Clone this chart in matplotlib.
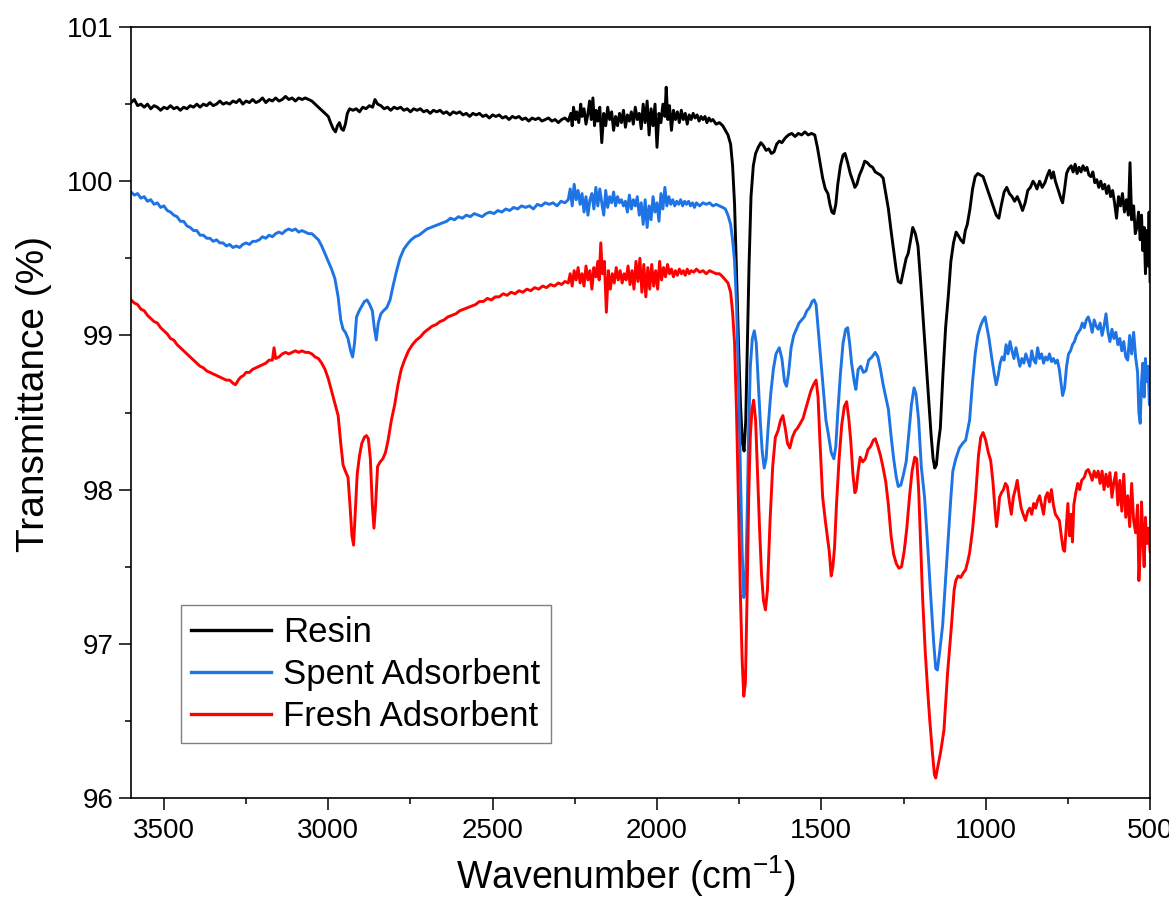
## FTIR spectra: resin, spent and fresh adsorbent
import numpy as np
import matplotlib
matplotlib.use("Agg")
import matplotlib.pyplot as plt
from matplotlib.ticker import MultipleLocator

plt.rcParams['font.family'] = ['Liberation Sans', 'DejaVu Sans']

labels = ["Resin", "Spent Adsorbent", "Fresh Adsorbent"]
colors = ["#000000", "#1E74E4", "#FF0000"]

# (wavenumber cm-1, transmittance %)
resin = [
    (3600, 100.51), (3590, 100.53), (3580, 100.49), (3570, 100.50), (3560, 100.48), (3550, 100.50),
    (3540, 100.47), (3530, 100.49), (3520, 100.48), (3510, 100.46), (3500, 100.48), (3490, 100.47),
    (3480, 100.49), (3470, 100.47), (3460, 100.48), (3450, 100.46), (3440, 100.48), (3430, 100.47),
    (3420, 100.49), (3410, 100.48), (3400, 100.50), (3390, 100.48), (3380, 100.50), (3370, 100.49),
    (3360, 100.51), (3350, 100.49), (3340, 100.50), (3330, 100.52), (3320, 100.50), (3310, 100.51),
    (3300, 100.50), (3290, 100.52), (3280, 100.51), (3270, 100.53), (3260, 100.50), (3250, 100.52),
    (3240, 100.51), (3230, 100.53), (3220, 100.51), (3210, 100.52), (3200, 100.54), (3190, 100.51),
    (3180, 100.53), (3170, 100.52), (3160, 100.54), (3150, 100.52), (3140, 100.53), (3130, 100.55),
    (3120, 100.53), (3110, 100.54), (3100, 100.52), (3090, 100.54), (3080, 100.53), (3070, 100.54),
    (3060, 100.53), (3050, 100.52), (3040, 100.50), (3030, 100.48), (3020, 100.46), (3010, 100.44),
    (3000, 100.42), (2993, 100.38), (2985, 100.34), (2978, 100.32), (2972, 100.36), (2966, 100.38),
    (2960, 100.34), (2954, 100.33), (2948, 100.37), (2942, 100.44), (2935, 100.47), (2925, 100.46),
    (2915, 100.47), (2905, 100.45), (2895, 100.48), (2885, 100.47), (2875, 100.49), (2865, 100.48),
    (2858, 100.53), (2850, 100.50), (2840, 100.49), (2830, 100.47), (2820, 100.48), (2810, 100.46),
    (2800, 100.48), (2790, 100.47), (2780, 100.48), (2770, 100.46), (2760, 100.47), (2750, 100.45),
    (2740, 100.47), (2730, 100.46), (2720, 100.47), (2710, 100.45), (2700, 100.46), (2690, 100.44),
    (2680, 100.46), (2670, 100.45), (2660, 100.46), (2650, 100.44), (2640, 100.45), (2630, 100.43),
    (2620, 100.45), (2610, 100.44), (2600, 100.45), (2590, 100.43), (2580, 100.44), (2570, 100.42),
    (2560, 100.44), (2550, 100.43), (2540, 100.44), (2530, 100.42), (2520, 100.43), (2510, 100.41),
    (2500, 100.43), (2490, 100.42), (2480, 100.43), (2470, 100.41), (2460, 100.42), (2450, 100.40),
    (2440, 100.42), (2430, 100.41), (2420, 100.42), (2410, 100.40), (2400, 100.41), (2390, 100.39),
    (2380, 100.41), (2370, 100.40), (2360, 100.41), (2350, 100.39), (2340, 100.40), (2330, 100.41),
    (2320, 100.39), (2310, 100.40), (2300, 100.38), (2290, 100.40), (2280, 100.41), (2270, 100.39),
    (2262, 100.44), (2258, 100.36), (2254, 100.48), (2248, 100.40), (2244, 100.45), (2238, 100.38),
    (2232, 100.50), (2228, 100.42), (2222, 100.47), (2216, 100.37), (2210, 100.44), (2205, 100.52),
    (2200, 100.40), (2195, 100.54), (2190, 100.36), (2185, 100.46), (2180, 100.39), (2174, 100.48),
    (2168, 100.25), (2162, 100.44), (2156, 100.36), (2150, 100.48), (2144, 100.40), (2138, 100.45),
    (2132, 100.33), (2126, 100.42), (2120, 100.36), (2114, 100.44), (2108, 100.38), (2102, 100.46),
    (2096, 100.35), (2090, 100.43), (2084, 100.39), (2078, 100.45), (2072, 100.37), (2066, 100.48),
    (2060, 100.40), (2054, 100.44), (2048, 100.34), (2042, 100.50), (2036, 100.38), (2030, 100.52),
    (2024, 100.30), (2018, 100.47), (2012, 100.36), (2006, 100.50), (2000, 100.22), (1994, 100.44),
    (1988, 100.38), (1982, 100.50), (1976, 100.42), (1972, 100.61), (1967, 100.40), (1962, 100.49),
    (1956, 100.33), (1950, 100.46), (1944, 100.40), (1938, 100.45), (1932, 100.38), (1926, 100.46),
    (1920, 100.40), (1914, 100.44), (1908, 100.37), (1902, 100.43), (1896, 100.40), (1890, 100.44),
    (1884, 100.41), (1878, 100.43), (1872, 100.39), (1866, 100.42), (1860, 100.40), (1854, 100.42),
    (1848, 100.38), (1842, 100.41), (1836, 100.39), (1830, 100.40), (1820, 100.37), (1810, 100.38),
    (1800, 100.36), (1792, 100.33), (1784, 100.30), (1776, 100.24), (1770, 100.10), (1764, 99.85),
    (1758, 99.40), (1752, 98.95), (1746, 98.55), (1740, 98.30), (1735, 98.25), (1730, 98.45),
    (1725, 98.95), (1720, 99.45), (1714, 99.90), (1707, 100.10), (1700, 100.18), (1692, 100.22),
    (1684, 100.25), (1676, 100.23), (1668, 100.20), (1660, 100.21), (1652, 100.18), (1644, 100.19),
    (1636, 100.24), (1628, 100.26), (1620, 100.25), (1610, 100.28), (1600, 100.30), (1590, 100.31),
    (1580, 100.29), (1570, 100.31), (1560, 100.30), (1550, 100.32), (1540, 100.30), (1530, 100.31),
    (1520, 100.30), (1512, 100.22), (1504, 100.12), (1496, 100.02), (1488, 99.95), (1480, 99.92),
    (1474, 99.85), (1468, 99.80), (1462, 99.79), (1456, 99.85), (1450, 99.98), (1442, 100.10),
    (1434, 100.17), (1428, 100.18), (1420, 100.12), (1412, 100.05), (1404, 100.00), (1398, 99.96),
    (1392, 99.98), (1384, 100.04), (1376, 100.08), (1368, 100.13), (1360, 100.12), (1352, 100.10),
    (1344, 100.09), (1336, 100.06), (1328, 100.05), (1320, 100.04), (1312, 100.02), (1304, 99.92),
    (1296, 99.82), (1288, 99.68), (1280, 99.55), (1272, 99.42), (1266, 99.35), (1258, 99.34),
    (1250, 99.42), (1242, 99.50), (1236, 99.53), (1230, 99.60), (1222, 99.70), (1214, 99.66),
    (1206, 99.58), (1198, 99.35), (1190, 99.10), (1182, 98.85), (1174, 98.60), (1166, 98.35),
    (1160, 98.20), (1155, 98.14), (1150, 98.16), (1144, 98.30), (1138, 98.40), (1130, 98.75),
    (1122, 99.05), (1114, 99.25), (1106, 99.48), (1098, 99.60), (1090, 99.67), (1084, 99.65),
    (1076, 99.62), (1068, 99.60), (1062, 99.68), (1056, 99.72), (1048, 99.82), (1040, 99.95),
    (1032, 100.03), (1024, 100.05), (1016, 100.04), (1008, 100.03), (1000, 99.98), (992, 99.93),
    (984, 99.88), (976, 99.83), (968, 99.78), (960, 99.76), (952, 99.85), (944, 99.93),
    (936, 99.96), (928, 99.92), (920, 99.90), (912, 99.87), (904, 99.90), (896, 99.86),
    (888, 99.81), (880, 99.86), (872, 99.94), (864, 99.96), (856, 100.00), (850, 99.98),
    (844, 99.95), (836, 100.00), (828, 99.96), (820, 99.99), (812, 100.04), (806, 100.07),
    (800, 100.02), (794, 100.06), (788, 100.00), (782, 99.96), (776, 99.92), (770, 99.88),
    (766, 99.86), (760, 99.95), (754, 100.05), (748, 100.08), (740, 100.10), (734, 100.06),
    (728, 100.11), (722, 100.05), (716, 100.09), (710, 100.06), (704, 100.10), (698, 100.07),
    (692, 100.09), (686, 100.04), (680, 100.03), (674, 100.06), (668, 99.99), (662, 100.01),
    (656, 99.96), (650, 100.00), (644, 99.95), (638, 99.98), (632, 99.92), (626, 99.97),
    (620, 99.90), (614, 99.94), (608, 99.86), (602, 99.76), (596, 99.90), (590, 99.84),
    (584, 99.92), (578, 99.80), (572, 99.88), (566, 99.78), (561, 100.12), (556, 99.75),
    (550, 99.84), (545, 99.66), (540, 99.70), (535, 99.80), (530, 99.62), (526, 99.78),
    (522, 99.55), (518, 99.70), (514, 99.40), (510, 99.68), (506, 99.45), (503, 99.80),
    (500, 99.35),
]

spent = [
    (3600, 99.93), (3590, 99.91), (3580, 99.92), (3570, 99.89), (3560, 99.90), (3550, 99.87),
    (3540, 99.88), (3530, 99.85), (3520, 99.86), (3510, 99.83), (3500, 99.84), (3490, 99.81),
    (3480, 99.80), (3470, 99.78), (3460, 99.77), (3450, 99.74), (3440, 99.74), (3430, 99.71),
    (3420, 99.70), (3410, 99.68), (3400, 99.68), (3390, 99.65), (3380, 99.65), (3370, 99.63),
    (3360, 99.63), (3350, 99.61), (3340, 99.62), (3330, 99.60), (3320, 99.60), (3310, 99.58),
    (3300, 99.59), (3290, 99.57), (3280, 99.58), (3270, 99.57), (3260, 99.59), (3250, 99.60),
    (3240, 99.59), (3230, 99.61), (3220, 99.61), (3210, 99.62), (3200, 99.64), (3190, 99.63),
    (3180, 99.65), (3170, 99.64), (3160, 99.66), (3150, 99.67), (3140, 99.66), (3130, 99.68),
    (3120, 99.69), (3110, 99.68), (3100, 99.69), (3090, 99.67), (3080, 99.68), (3070, 99.67),
    (3060, 99.66), (3050, 99.66), (3040, 99.64), (3030, 99.62), (3020, 99.58), (3010, 99.53),
    (3000, 99.48), (2990, 99.43), (2980, 99.37), (2970, 99.25), (2962, 99.10), (2955, 99.04),
    (2948, 99.02), (2940, 98.98), (2932, 98.90), (2926, 98.86), (2920, 98.95), (2914, 99.12),
    (2906, 99.16), (2898, 99.19), (2890, 99.22), (2882, 99.23), (2874, 99.20), (2866, 99.16),
    (2860, 99.05), (2854, 98.97), (2848, 99.08), (2840, 99.14), (2832, 99.16), (2822, 99.18),
    (2812, 99.23), (2802, 99.33), (2792, 99.42), (2782, 99.50), (2770, 99.56), (2760, 99.59),
    (2748, 99.62), (2736, 99.64), (2724, 99.65), (2712, 99.67), (2700, 99.69), (2688, 99.70),
    (2676, 99.71), (2664, 99.72), (2652, 99.73), (2640, 99.74), (2628, 99.76), (2616, 99.75),
    (2604, 99.77), (2592, 99.76), (2580, 99.78), (2568, 99.77), (2556, 99.79), (2544, 99.78),
    (2532, 99.77), (2520, 99.79), (2508, 99.80), (2496, 99.79), (2484, 99.81), (2472, 99.80),
    (2460, 99.82), (2448, 99.81), (2436, 99.83), (2424, 99.82), (2412, 99.84), (2400, 99.83),
    (2388, 99.84), (2376, 99.82), (2364, 99.85), (2352, 99.84), (2340, 99.86), (2328, 99.85),
    (2316, 99.86), (2304, 99.84), (2292, 99.87), (2280, 99.86), (2270, 99.88), (2264, 99.95),
    (2258, 99.84), (2252, 99.98), (2246, 99.88), (2240, 99.94), (2234, 99.85), (2228, 99.92),
    (2222, 99.80), (2216, 99.90), (2210, 99.78), (2204, 99.88), (2198, 99.92), (2192, 99.82),
    (2186, 99.96), (2180, 99.84), (2174, 99.95), (2168, 99.86), (2162, 99.78), (2156, 99.94),
    (2150, 99.83), (2144, 99.90), (2138, 99.86), (2132, 99.93), (2126, 99.84), (2120, 99.90),
    (2114, 99.86), (2108, 99.88), (2102, 99.84), (2096, 99.87), (2090, 99.80), (2084, 99.91),
    (2078, 99.82), (2072, 99.88), (2066, 99.84), (2060, 99.90), (2054, 99.78), (2048, 99.86),
    (2042, 99.72), (2036, 99.88), (2030, 99.70), (2024, 99.84), (2018, 99.75), (2012, 99.90),
    (2006, 99.80), (2000, 99.86), (1994, 99.74), (1988, 99.92), (1982, 99.82), (1976, 99.96),
    (1970, 99.84), (1964, 99.90), (1958, 99.85), (1952, 99.88), (1946, 99.84), (1940, 99.87),
    (1934, 99.85), (1928, 99.88), (1922, 99.84), (1916, 99.87), (1910, 99.85), (1904, 99.87),
    (1898, 99.84), (1892, 99.86), (1886, 99.83), (1880, 99.86), (1870, 99.84), (1860, 99.86),
    (1850, 99.85), (1840, 99.86), (1830, 99.84), (1820, 99.85), (1810, 99.84), (1800, 99.83),
    (1792, 99.82), (1784, 99.78), (1776, 99.72), (1770, 99.62), (1764, 99.48), (1758, 99.20),
    (1752, 98.70), (1746, 98.10), (1741, 97.60), (1736, 97.30), (1731, 97.35), (1726, 97.80),
    (1721, 98.40), (1716, 98.80), (1710, 98.98), (1704, 99.03), (1698, 98.95), (1692, 98.70),
    (1686, 98.45), (1680, 98.25), (1674, 98.14), (1668, 98.20), (1662, 98.40), (1654, 98.62),
    (1646, 98.78), (1638, 98.88), (1628, 98.92), (1620, 98.85), (1612, 98.70), (1606, 98.67),
    (1600, 98.75), (1592, 98.92), (1584, 99.00), (1576, 99.04), (1568, 99.08), (1560, 99.10),
    (1552, 99.12), (1544, 99.16), (1536, 99.18), (1528, 99.22), (1522, 99.23), (1516, 99.20),
    (1510, 99.05), (1502, 98.85), (1494, 98.65), (1486, 98.45), (1478, 98.35), (1470, 98.24),
    (1462, 98.20), (1456, 98.28), (1450, 98.50), (1442, 98.75), (1434, 98.95), (1426, 99.04),
    (1420, 99.05), (1414, 98.95), (1408, 98.82), (1400, 98.70), (1395, 98.65), (1388, 98.78),
    (1380, 98.80), (1372, 98.76), (1364, 98.77), (1356, 98.84), (1346, 98.86), (1336, 98.89),
    (1328, 98.86), (1320, 98.78), (1312, 98.68), (1304, 98.60), (1296, 98.52), (1288, 98.35),
    (1280, 98.20), (1272, 98.08), (1266, 98.02), (1258, 98.03), (1250, 98.10), (1242, 98.18),
    (1234, 98.36), (1226, 98.55), (1218, 98.66), (1212, 98.62), (1204, 98.45), (1196, 98.15),
    (1186, 97.95), (1176, 97.62), (1167, 97.30), (1158, 97.00), (1152, 96.84), (1147, 96.83),
    (1140, 96.95), (1131, 97.12), (1122, 97.42), (1116, 97.63), (1106, 97.95), (1100, 98.12),
    (1091, 98.20), (1080, 98.27), (1070, 98.30), (1061, 98.32), (1049, 98.45), (1040, 98.70),
    (1032, 98.88), (1024, 99.00), (1016, 99.06), (1008, 99.10), (1002, 99.12), (996, 99.05),
    (990, 98.98), (982, 98.86), (974, 98.75), (968, 98.68), (962, 98.74), (956, 98.82),
    (950, 98.86), (944, 98.84), (938, 98.94), (932, 98.88), (926, 98.96), (920, 98.90),
    (914, 98.85), (908, 98.92), (902, 98.86), (896, 98.80), (890, 98.85), (884, 98.82),
    (878, 98.88), (872, 98.84), (866, 98.80), (860, 98.90), (854, 98.84), (848, 98.82),
    (842, 98.92), (836, 98.85), (830, 98.88), (824, 98.82), (818, 98.86), (812, 98.84),
    (806, 98.88), (800, 98.83), (794, 98.85), (788, 98.82), (782, 98.84), (776, 98.78),
    (770, 98.68), (766, 98.61), (760, 98.66), (754, 98.80), (748, 98.88), (742, 98.90),
    (736, 98.94), (730, 98.96), (724, 99.00), (718, 99.02), (712, 99.04), (706, 99.08),
    (700, 99.05), (694, 99.10), (688, 99.12), (682, 99.08), (676, 99.02), (670, 99.10),
    (664, 99.06), (658, 99.04), (652, 99.08), (646, 99.00), (640, 99.06), (634, 99.14),
    (628, 99.02), (622, 98.96), (616, 99.04), (610, 98.98), (604, 99.02), (598, 98.94),
    (592, 98.98), (586, 98.90), (580, 98.96), (574, 98.86), (568, 98.84), (562, 99.00),
    (556, 98.88), (550, 99.02), (544, 98.86), (538, 98.76), (534, 98.50), (530, 98.43),
    (526, 98.70), (522, 98.82), (518, 98.60), (514, 98.85), (510, 98.70), (506, 98.80),
    (502, 98.55), (500, 98.62),
]

fresh = [
    (3600, 99.23), (3590, 99.21), (3580, 99.20), (3570, 99.17), (3560, 99.16), (3550, 99.13),
    (3540, 99.11), (3530, 99.09), (3520, 99.08), (3510, 99.05), (3500, 99.03), (3490, 99.01),
    (3480, 98.98), (3470, 98.97), (3460, 98.94), (3450, 98.92), (3440, 98.90), (3430, 98.88),
    (3420, 98.86), (3410, 98.84), (3400, 98.82), (3390, 98.80), (3380, 98.79), (3370, 98.77),
    (3360, 98.76), (3350, 98.75), (3340, 98.74), (3330, 98.73), (3320, 98.72), (3310, 98.71),
    (3300, 98.71), (3290, 98.69), (3282, 98.68), (3274, 98.71), (3266, 98.73), (3258, 98.74),
    (3250, 98.76), (3240, 98.76), (3230, 98.78), (3220, 98.79), (3210, 98.80), (3200, 98.81),
    (3190, 98.82), (3180, 98.84), (3170, 98.84), (3165, 98.92), (3160, 98.85), (3150, 98.86),
    (3140, 98.88), (3130, 98.89), (3120, 98.88), (3110, 98.89), (3100, 98.90), (3090, 98.89),
    (3080, 98.90), (3070, 98.89), (3060, 98.89), (3050, 98.88), (3040, 98.86), (3030, 98.85),
    (3020, 98.82), (3010, 98.78), (3000, 98.72), (2990, 98.64), (2980, 98.56), (2970, 98.48),
    (2962, 98.30), (2955, 98.16), (2948, 98.12), (2940, 98.08), (2934, 97.90), (2928, 97.70),
    (2923, 97.64), (2918, 97.85), (2912, 98.10), (2905, 98.22), (2898, 98.30), (2890, 98.34),
    (2884, 98.35), (2878, 98.33), (2872, 98.20), (2866, 97.90), (2861, 97.75), (2856, 97.90),
    (2850, 98.15), (2842, 98.18), (2834, 98.20), (2826, 98.24), (2818, 98.32), (2808, 98.45),
    (2798, 98.55), (2788, 98.68), (2778, 98.78), (2768, 98.84), (2756, 98.90), (2744, 98.94),
    (2732, 98.97), (2720, 98.99), (2708, 99.02), (2696, 99.04), (2684, 99.06), (2672, 99.07),
    (2660, 99.09), (2648, 99.10), (2636, 99.12), (2624, 99.13), (2612, 99.14), (2600, 99.16),
    (2588, 99.17), (2576, 99.18), (2564, 99.19), (2552, 99.20), (2540, 99.22), (2528, 99.22),
    (2516, 99.24), (2504, 99.23), (2492, 99.25), (2480, 99.25), (2468, 99.27), (2456, 99.26),
    (2444, 99.28), (2432, 99.27), (2420, 99.29), (2408, 99.28), (2396, 99.30), (2384, 99.29),
    (2372, 99.31), (2360, 99.30), (2348, 99.32), (2336, 99.31), (2324, 99.33), (2312, 99.32),
    (2300, 99.34), (2290, 99.33), (2280, 99.35), (2270, 99.34), (2264, 99.40), (2258, 99.32),
    (2252, 99.42), (2246, 99.36), (2240, 99.44), (2234, 99.34), (2228, 99.40), (2222, 99.32),
    (2216, 99.45), (2210, 99.36), (2204, 99.42), (2198, 99.30), (2192, 99.44), (2186, 99.38),
    (2180, 99.48), (2176, 99.36), (2171, 99.60), (2166, 99.40), (2160, 99.48), (2154, 99.15),
    (2148, 99.42), (2142, 99.30), (2136, 99.40), (2130, 99.34), (2124, 99.44), (2118, 99.36),
    (2112, 99.42), (2106, 99.34), (2100, 99.40), (2094, 99.36), (2088, 99.45), (2082, 99.33),
    (2076, 99.42), (2070, 99.30), (2064, 99.48), (2058, 99.35), (2052, 99.50), (2046, 99.28),
    (2040, 99.46), (2034, 99.25), (2028, 99.44), (2022, 99.30), (2016, 99.46), (2010, 99.32),
    (2004, 99.42), (1998, 99.30), (1992, 99.48), (1986, 99.36), (1980, 99.44), (1974, 99.38),
    (1968, 99.46), (1962, 99.40), (1956, 99.43), (1950, 99.38), (1944, 99.42), (1938, 99.39),
    (1932, 99.43), (1926, 99.40), (1920, 99.42), (1914, 99.39), (1908, 99.43), (1902, 99.40),
    (1896, 99.42), (1888, 99.41), (1880, 99.43), (1870, 99.41), (1860, 99.42), (1850, 99.40),
    (1840, 99.42), (1830, 99.41), (1820, 99.40), (1810, 99.40), (1800, 99.38), (1792, 99.36),
    (1784, 99.34), (1776, 99.28), (1770, 99.15), (1764, 98.95), (1758, 98.50), (1752, 97.90),
    (1746, 97.30), (1741, 96.90), (1736, 96.66), (1731, 96.75), (1726, 97.30), (1721, 97.95),
    (1716, 98.35), (1711, 98.52), (1706, 98.58), (1700, 98.45), (1694, 98.10), (1688, 97.75),
    (1682, 97.45), (1676, 97.28), (1670, 97.22), (1664, 97.35), (1656, 97.80), (1648, 98.15),
    (1640, 98.34), (1632, 98.38), (1624, 98.45), (1617, 98.48), (1610, 98.40), (1603, 98.30),
    (1596, 98.27), (1588, 98.34), (1580, 98.38), (1572, 98.40), (1564, 98.43), (1556, 98.46),
    (1548, 98.52), (1540, 98.58), (1532, 98.64), (1524, 98.68), (1516, 98.71), (1510, 98.60),
    (1504, 98.30), (1496, 97.95), (1488, 97.80), (1482, 97.70), (1476, 97.60), (1470, 97.44),
    (1465, 97.50), (1460, 97.62), (1454, 97.90), (1446, 98.20), (1438, 98.42), (1430, 98.54),
    (1423, 98.57), (1416, 98.45), (1410, 98.30), (1404, 98.10), (1398, 97.98), (1394, 98.00),
    (1388, 98.12), (1382, 98.21), (1374, 98.18), (1366, 98.20), (1358, 98.26), (1350, 98.28),
    (1342, 98.32), (1336, 98.33), (1328, 98.28), (1320, 98.22), (1312, 98.14), (1304, 98.05),
    (1296, 97.90), (1288, 97.70), (1280, 97.58), (1272, 97.52), (1264, 97.49), (1256, 97.50),
    (1248, 97.60), (1240, 97.75), (1232, 97.95), (1224, 98.12), (1216, 98.21), (1210, 98.20),
    (1204, 98.00), (1198, 97.65), (1192, 97.30), (1184, 96.95), (1176, 96.68), (1170, 96.50),
    (1162, 96.29), (1156, 96.15), (1152, 96.13), (1146, 96.20), (1137, 96.30), (1127, 96.44),
    (1116, 96.81), (1106, 97.07), (1096, 97.35), (1091, 97.41), (1084, 97.44), (1076, 97.43),
    (1068, 97.46), (1061, 97.48), (1054, 97.54), (1049, 97.59), (1040, 97.74), (1031, 97.95),
    (1022, 98.22), (1015, 98.34), (1008, 98.37), (1000, 98.32), (992, 98.24), (985, 98.19),
    (978, 98.05), (972, 97.88), (967, 97.76), (962, 97.85), (958, 97.95), (952, 97.98),
    (946, 98.00), (940, 98.04), (934, 98.02), (928, 97.92), (922, 97.84), (916, 97.95),
    (910, 98.00), (904, 98.06), (898, 97.96), (892, 97.88), (886, 97.84), (879, 97.80),
    (872, 97.86), (866, 97.88), (860, 97.84), (854, 97.91), (848, 97.88), (842, 97.93),
    (836, 97.96), (830, 97.90), (824, 97.84), (818, 97.95), (812, 97.98), (806, 97.92),
    (800, 98.00), (794, 97.90), (788, 97.84), (782, 97.82), (776, 97.80), (770, 97.70),
    (764, 97.61), (760, 97.60), (755, 97.75), (750, 97.91), (745, 97.70), (740, 97.84),
    (736, 97.66), (732, 97.90), (726, 97.98), (720, 98.04), (714, 98.00), (708, 98.06),
    (700, 98.08), (694, 98.12), (688, 98.13), (682, 98.10), (676, 98.06), (670, 98.12),
    (664, 98.08), (658, 98.12), (652, 98.04), (646, 98.12), (640, 98.00), (634, 98.10),
    (628, 98.02), (622, 98.11), (616, 97.95), (610, 98.05), (604, 98.11), (598, 97.90),
    (592, 98.06), (586, 97.86), (580, 98.10), (574, 97.82), (568, 97.96), (562, 97.76),
    (556, 98.04), (550, 97.80), (544, 97.72), (538, 97.90), (534, 97.41), (530, 97.60),
    (526, 97.92), (522, 97.70), (518, 97.50), (514, 97.82), (510, 97.65), (505, 97.75),
    (500, 97.60),
]

fig = plt.figure(figsize=(11.69, 9.07), dpi=100)
ax = fig.add_axes([0.1121, 0.1202, 0.8717, 0.85])

for pts, lab, col in zip([resin, spent, fresh], labels, colors):
    d = np.array(pts)
    ax.plot(d[:, 0], d[:, 1], color=col, lw=2.1, label=lab)

ax.set_xlim(3600, 500)
ax.set_ylim(96, 101)
ax.xaxis.set_major_locator(MultipleLocator(500))
ax.xaxis.set_minor_locator(MultipleLocator(250))
ax.yaxis.set_major_locator(MultipleLocator(1))
ax.yaxis.set_minor_locator(MultipleLocator(0.5))
ax.tick_params(which='both', direction='out', top=False, right=False, width=1.1, labelsize=20)
ax.tick_params(which='major', length=8.5)
ax.tick_params(which='minor', length=4.5)
ax.tick_params(axis='x', which='major', pad=6)
ax.tick_params(axis='y', which='major', pad=4)
for s in ax.spines.values():
    s.set_linewidth(1.2)

ax.set_xlabel("Wavenumber (cm$^{\\mathregular{-1}}$)", fontsize=27)
ax.set_ylabel("Transmittance (%)", fontsize=28)
ax.xaxis.set_label_coords(0.485, -0.072)
ax.yaxis.set_label_coords(-0.078, 0.524)

leg = ax.legend(loc='lower left', bbox_to_anchor=(0.049, 0.071), borderaxespad=0,
                fontsize=25, frameon=True, fancybox=False, framealpha=1,
                edgecolor='#808080', handlelength=2.3, handletextpad=0.35,
                labelspacing=0.26, borderpad=0.3)
leg.get_frame().set_linewidth(1.0)
for l in leg.get_lines():
    l.set_linewidth(2.4)

fig.savefig("out.png", dpi=100)
